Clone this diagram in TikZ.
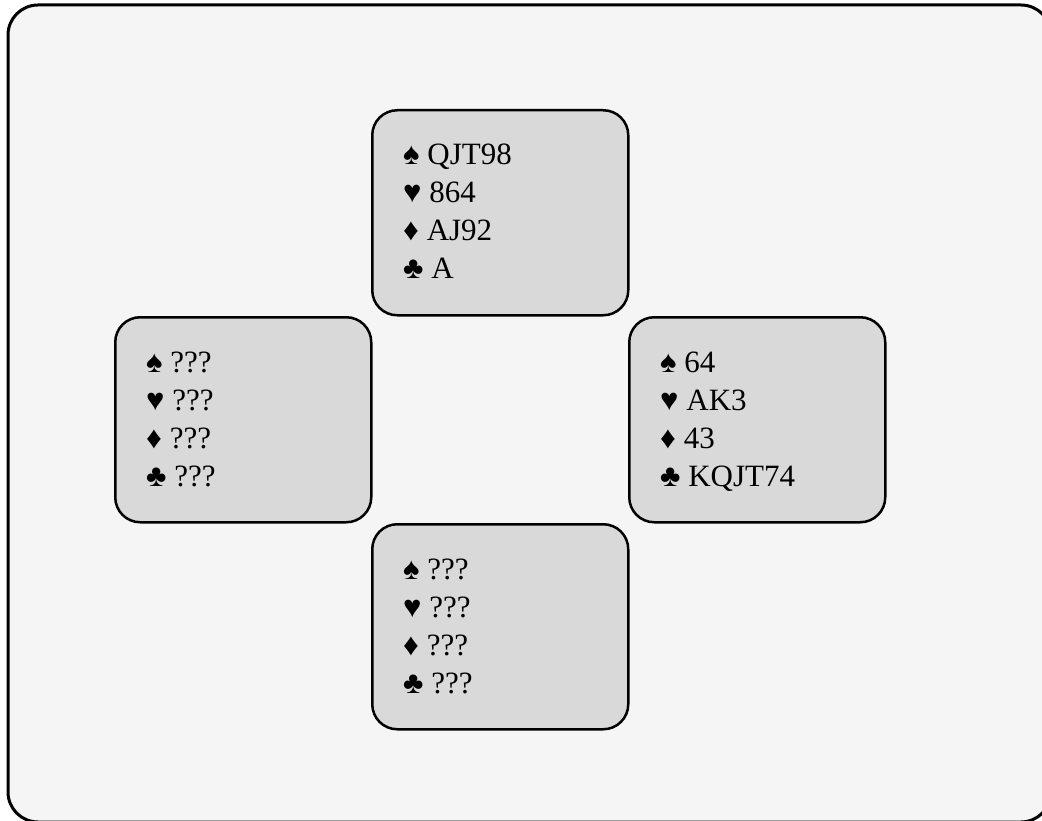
\documentclass[tikz,border=0pt]{standalone}
\usepackage{fontspec}
\setmainfont{Liberation Serif}
\definecolor{bgc}{HTML}{F5F5F5}
\definecolor{boxc}{HTML}{D9D9D9}
\newcommand\drawhand[7]{%
  \node[handbox] (#1) at (#2,#3) {};
  \node[suitline] (#1-s) at (#2+32,#3+56) {♠ #4};
  \node[suitline] (#1-h) at (#2+32,#3+94) {♥ #5};
  \node[suitline] (#1-d) at (#2+32,#3+132) {♦ #6};
  \node[suitline] (#1-c) at (#2+32,#3+170) {♣ #7};
}
\begin{document}
\begin{tikzpicture}[x=1pt,y=-1pt,
  frame/.style={draw=black, line width=3pt, fill=bgc, rounded corners=30pt},
  handbox/.style={draw=black, line width=2.5pt, fill=boxc, rounded corners=25pt, rectangle, minimum width=256pt, minimum height=205pt, inner sep=0pt, anchor=north west},
  suitline/.style={anchor=base west, inner sep=0pt, font=\fontsize{31}{38}\selectfont}]
\fill[white] (0,0) rectangle (1042,821);
\clip (0,0) rectangle (1042,821);
\draw[frame] (8,5) rectangle (1051,822);
\drawhand{north}{371}{109}{QJT98}{864}{AJ92}{A}
\drawhand{west}{114}{316}{???}{???}{???}{???}
\drawhand{east}{628}{316}{64}{AK3}{43}{KQJT74}
\drawhand{south}{371}{523}{???}{???}{???}{???}
\end{tikzpicture}
\end{document}
